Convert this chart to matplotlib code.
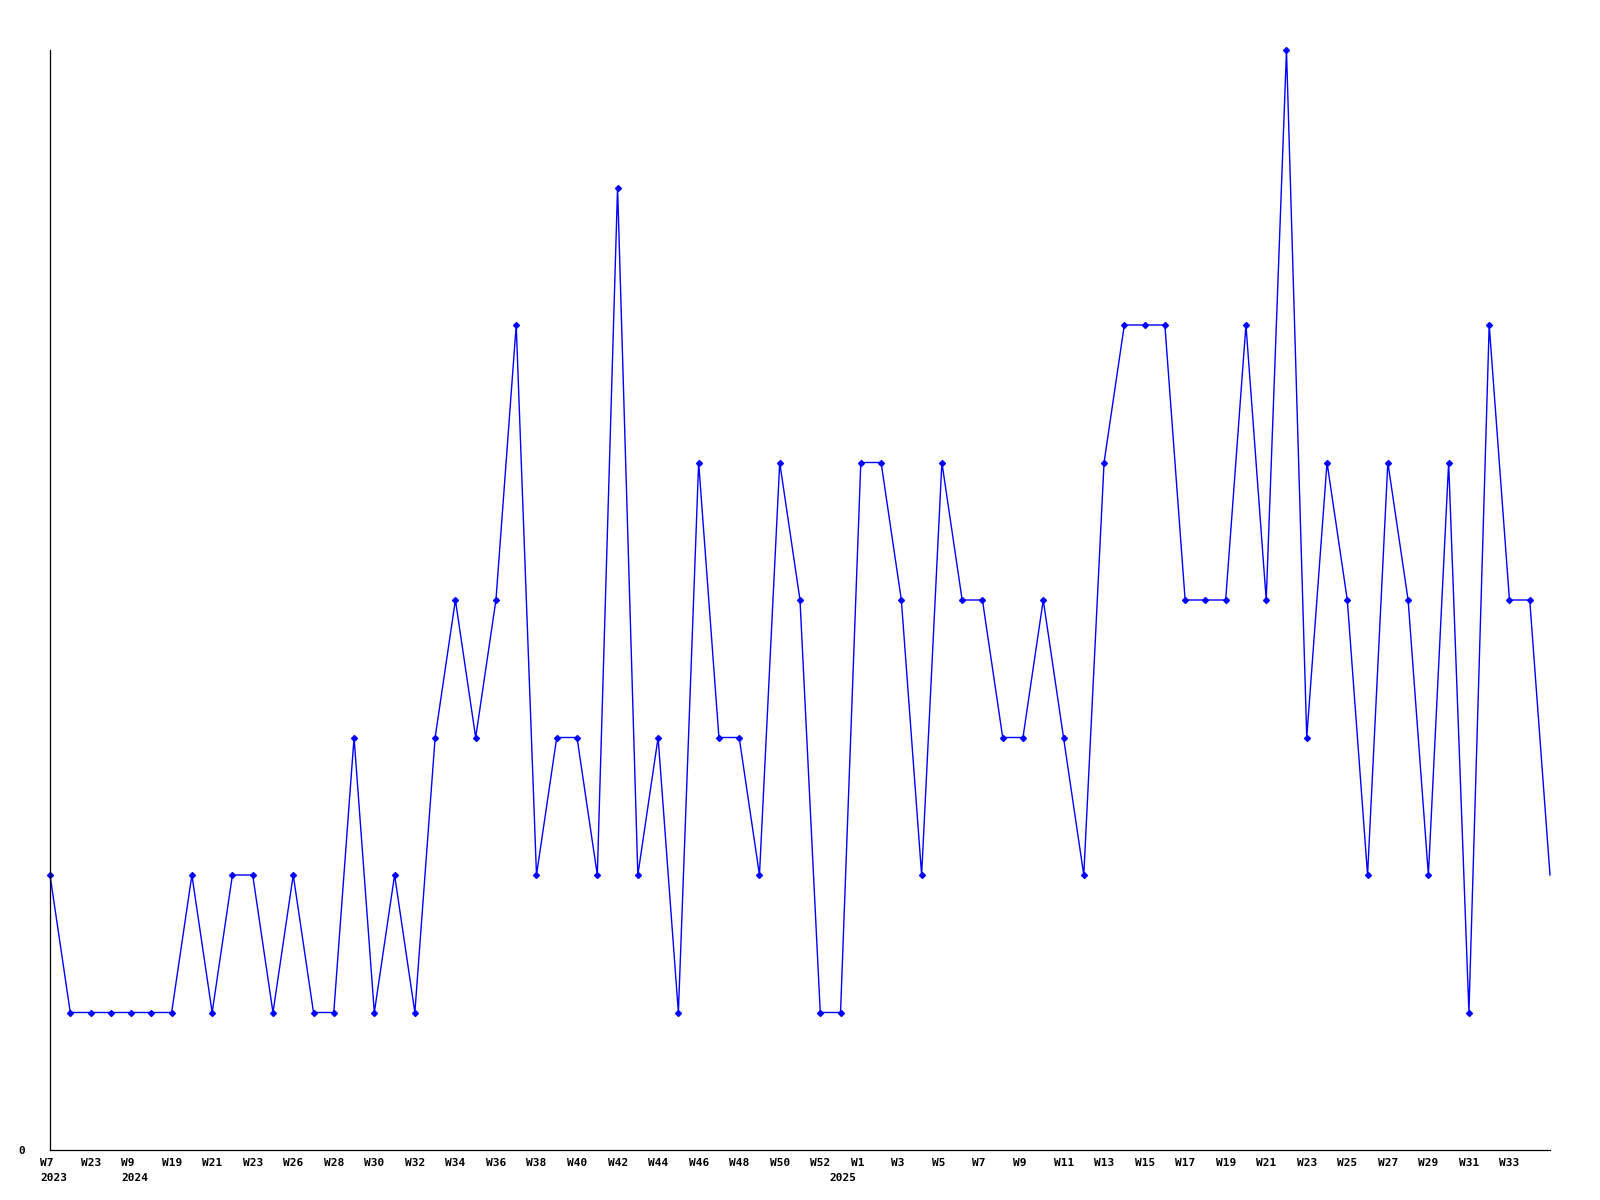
import numpy as np
import matplotlib.pyplot as plt
from matplotlib.transforms import ScaledTranslation, blended_transform_factory

# weekly counts
counts = [2, 1, 1, 1, 1, 1, 1, 2, 1, 2, 2, 1, 2, 1, 1, 3, 1, 2, 1, 3,
          4, 3, 4, 6, 2, 3, 3, 2, 7, 2, 3, 1, 5, 3, 3, 2, 5, 4, 1, 1,
          5, 5, 4, 2, 5, 4, 4, 3, 3, 4, 3, 2, 5, 6, 6, 6, 4, 4, 4, 6,
          4, 8, 3, 5, 4, 2, 5, 4, 2, 5, 1, 6, 4, 4, 2]

# every second week carries a label (the last week has none)
week_labels = ["W7", "W23", "W9", "W19", "W21", "W23", "W26", "W28",
               "W30", "W32", "W34", "W36", "W38", "W40", "W42", "W44", "W46",
               "W48", "W50", "W52", "W1", "W3", "W5", "W7", "W9", "W11",
               "W13", "W15", "W17", "W19", "W21", "W23", "W25", "W27", "W29",
               "W31", "W33"]
year_idx = [0, 4, 40]
year_labels = ["2023", "2024", "2025"]

x = np.arange(len(counts))

fig = plt.figure(figsize=(16, 12), dpi=100)
ax = fig.add_axes([50/1600, 50/1200, 1500/1600, 1100/1200])

ax.plot(x, counts, color='#0000ff', linewidth=1.0, marker='D', markersize=3.0,
        markevery=slice(0, len(counts) - 1), clip_on=False)

ax.set_xlim(0, len(counts) - 1)
ax.set_ylim(0, 8)

for s in ['top', 'right']:
    ax.spines[s].set_visible(False)
for s in ['left', 'bottom']:
    ax.spines[s].set_linewidth(0.9)
    ax.spines[s].set_color('black')

font = dict(family='DejaVu Sans Mono', weight='bold', size=8)

ax.set_xticks(x[:-1:2])
ax.set_xticklabels(week_labels, ha='left', va='top', **font)
ax.tick_params(axis='x', length=0, pad=6)
shift = ScaledTranslation(-10/100, 0, fig.dpi_scale_trans)
for lab in ax.get_xticklabels():
    lab.set_transform(lab.get_transform() + shift)

# year line under the week labels
trans = blended_transform_factory(ax.transData, ax.transAxes)
year_shift = [-10, -10, -31]
for i, yr, dx in zip(year_idx, year_labels, year_shift):
    ax.text(i, 0, yr, ha='left', va='top', **font,
            transform=trans + ScaledTranslation(dx/100, -23/100, fig.dpi_scale_trans))

ax.set_yticks([0])
ax.set_yticklabels(["0"], **font)
ax.tick_params(axis='y', length=0, pad=18)

fig.savefig('out.png', dpi=100)
